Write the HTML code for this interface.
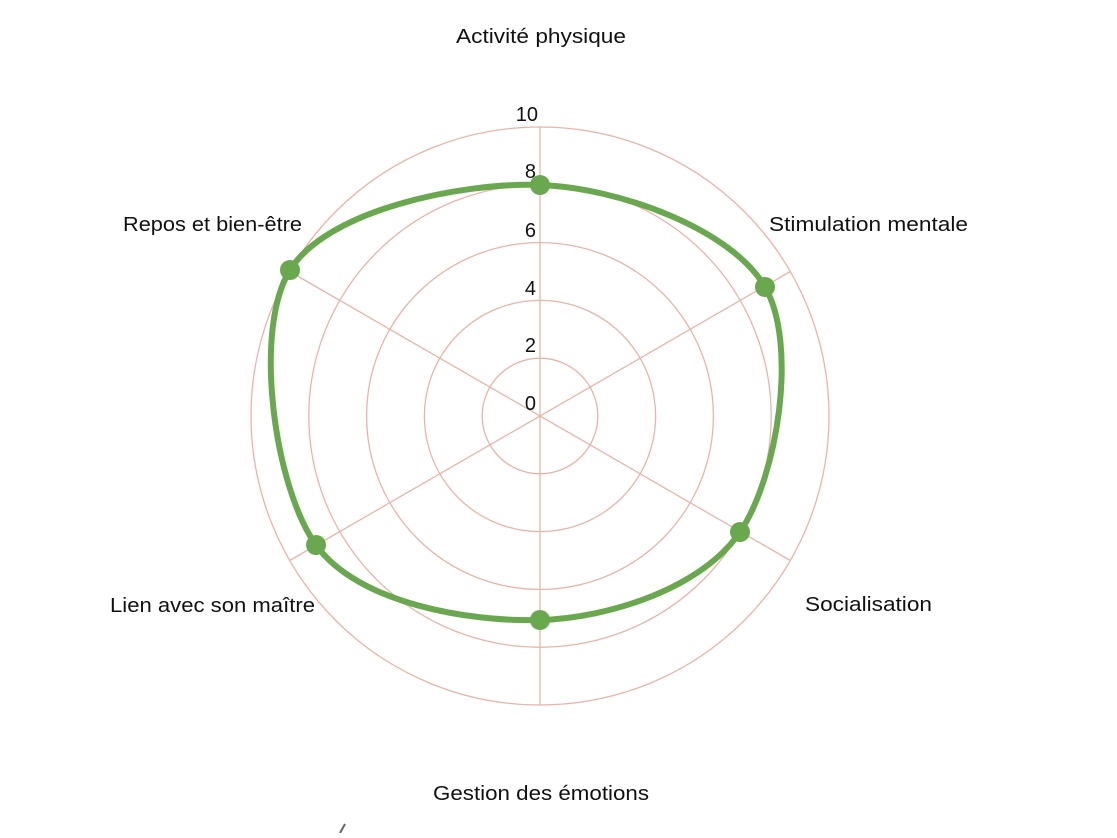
<!DOCTYPE html>
<html><head><meta charset="utf-8"><style>
html,body{margin:0;padding:0;background:#fff;}
svg text{font-family:"Liberation Sans",sans-serif;font-size:20px;fill:#111;}
</style></head><body>
<svg width="1117" height="833" viewBox="0 0 1117 833" xmlns="http://www.w3.org/2000/svg">
<g fill="none" stroke="#e8b4aa" stroke-width="1.3">
<circle cx="540" cy="416" r="57.8"/>
<circle cx="540" cy="416" r="115.6"/>
<circle cx="540" cy="416" r="173.4"/>
<circle cx="540" cy="416" r="231.2"/>
<circle cx="540" cy="416" r="289"/>
<line x1="540" y1="127" x2="540" y2="705"/>
<line x1="289.7" y1="271.5" x2="790.3" y2="560.5"/>
<line x1="289.7" y1="560.5" x2="790.3" y2="271.5"/>
</g>
<text x="456" y="43" textLength="170" lengthAdjust="spacingAndGlyphs">Activité physique</text>
<text x="433" y="800" textLength="216" lengthAdjust="spacingAndGlyphs">Gestion des émotions</text>
<text x="769" y="231" textLength="199" lengthAdjust="spacingAndGlyphs">Stimulation mentale</text>
<text x="805" y="611" textLength="127" lengthAdjust="spacingAndGlyphs">Socialisation</text>
<text x="123" y="231" textLength="179" lengthAdjust="spacingAndGlyphs">Repos et bien-être</text>
<text x="110" y="612" textLength="205" lengthAdjust="spacingAndGlyphs">Lien avec son maître</text>
<g text-anchor="end">
<text x="538" y="121">10</text>
<text x="536" y="178">8</text>
<text x="536" y="237">6</text>
<text x="536" y="295">4</text>
<text x="536" y="352">2</text>
<text x="536" y="410">0</text>
</g>
<path d="M540,185 C619.2,187.8 731.7,229.2 765,287 C798.3,344.8 777.5,476.5 740,532 C702.5,587.5 610.7,617.8 540,620 C469.3,622.2 357.7,603.3 316,545 C274.3,486.7 252.7,330 290,270 C327.3,210 460.8,182.2 540,185 Z" fill="none" stroke="#6aa84f" stroke-width="6"/>
<g fill="#6aa84f">
<circle cx="540" cy="185" r="10"/>
<circle cx="765" cy="287" r="10"/>
<circle cx="740" cy="532" r="10"/>
<circle cx="540" cy="620" r="10"/>
<circle cx="316" cy="545" r="10"/>
<circle cx="290" cy="270" r="10"/>
</g>
<line x1="340" y1="833" x2="345" y2="824" stroke="#666" stroke-width="2"/>
</svg>
</body></html>
